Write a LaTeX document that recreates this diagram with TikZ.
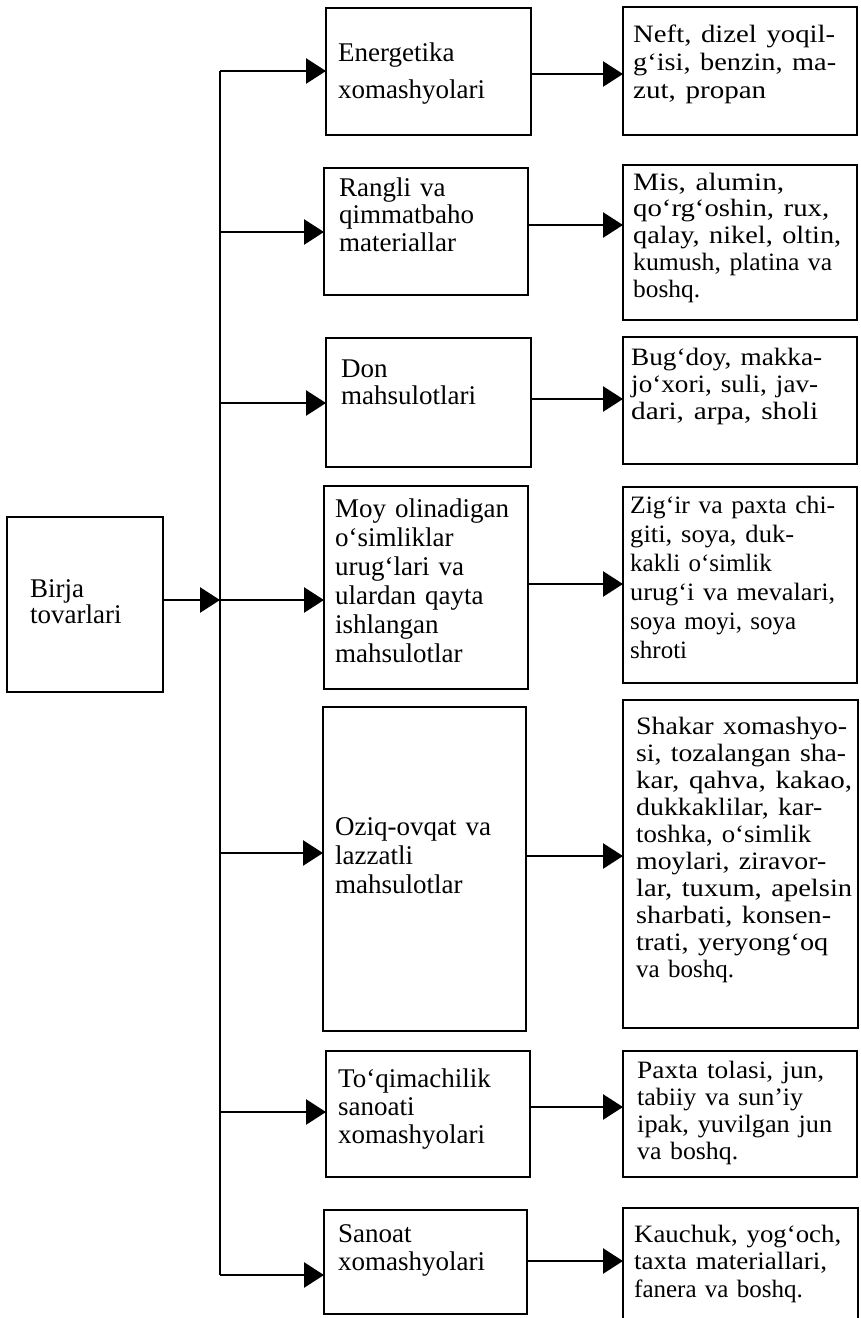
\documentclass[tikz,border=0pt]{standalone}
\usepackage{fontspec}
\usepackage{graphicx}
\setmainfont{Liberation Serif}
\usetikzlibrary{arrows.meta}
\newcommand\jline[2]{\leavevmode\resizebox{#1}{\height}{#2}}
\begin{document}
\begin{tikzpicture}[x=1pt,y=-1pt,
  box/.style={draw, line width=2.8pt, anchor=north west, inner sep=0pt, outer sep=0pt},
  conn/.style={line width=2.7pt},
  arr/.style={line width=2.7pt, -{Triangle[length=20pt,width=25pt]}},
  txtm/.style={anchor=base west, inner sep=0pt, text width=190pt, align=left},
  txtr/.style={anchor=base west, inner sep=0pt, text width=228pt, align=left}]
\useasboundingbox (0,0) rectangle (860,1318);
\clip (0,0) rectangle (860,1318);

% boxes
\node[box, minimum width=156pt, minimum height=175pt] (b) at (7,517) {};
\node[box, minimum width=205pt, minimum height=127pt] (m1) at (326,8) {};
\node[box, minimum width=204pt, minimum height=127pt] (m2) at (324,168) {};
\node[box, minimum width=205pt, minimum height=129pt] (m3) at (326,338) {};
\node[box, minimum width=204pt, minimum height=203pt] (m4) at (324,486) {};
\node[box, minimum width=203pt, minimum height=324pt] (m5) at (323,707) {};
\node[box, minimum width=204pt, minimum height=126pt] (m6) at (326,1051) {};
\node[box, minimum width=203pt, minimum height=104pt] (m7) at (324,1210) {};

\node[box, minimum width=234pt, minimum height=128pt] (r1) at (623,7) {};
\node[box, minimum width=234pt, minimum height=155pt] (r2) at (623,165) {};
\node[box, minimum width=234pt, minimum height=127pt] (r3) at (623,337) {};
\node[box, minimum width=234pt, minimum height=196pt] (r4) at (623,487) {};
\node[box, minimum width=235pt, minimum height=328pt] (r5) at (623,700) {};
\node[box, minimum width=234pt, minimum height=126pt] (r6) at (623,1051) {};
\node[box, minimum width=235pt, minimum height=125pt] (r7) at (623,1208) {};

% texts
\node[txtm, font=\fontsize{27}{26}\selectfont] (t0) at (30,597) {Birja\\tovarlari};
\node[txtm, font=\fontsize{27}{37}\selectfont] (t1) at (338,61) {Energetika\\xomashyolari};
\node[txtm, font=\fontsize{27}{27.5}\selectfont] (t2) at (339,196) {Rangli va\\qimmatbaho\\materiallar};
\node[txtm, font=\fontsize{27}{27}\selectfont] (t3) at (341,377) {Don\\mahsulotlari};
\node[txtm, font=\fontsize{27}{29}\selectfont] (t4) at (335,517) {Moy olinadigan\\o‘simliklar\\urug‘lari va\\ulardan qayta\\ishlangan\\mahsulotlar};
\node[txtm, font=\fontsize{27}{29}\selectfont] (t5) at (335,835) {Oziq-ovqat va\\lazzatli\\mahsulotlar};
\node[txtm, font=\fontsize{27}{28}\selectfont] (t6) at (338,1087) {To‘qimachilik\\sanoati\\xomashyolari};
\node[txtm, font=\fontsize{27}{28}\selectfont] (t7) at (338,1242) {Sanoat\\xomashyolari};

\node[txtr, font=\fontsize{25}{28}\selectfont] (u1) at (633,42) {\jline{202pt}{Neft, dizel yoqil-}\\\jline{203pt}{g‘isi, benzin, ma-}\\\jline{133pt}{zut, propan}};
\node[txtr, font=\fontsize{25}{26.75}\selectfont] (u2) at (633,190) {\jline{151pt}{Mis, alumin,}\\\jline{196pt}{qo‘rg‘oshin, rux,}\\\jline{208pt}{qalay, nikel, oltin,}\\\jline{199pt}{kumush, platina va}\\\jline{67pt}{boshq.}};
\node[txtr, font=\fontsize{25}{27}\selectfont] (u3) at (631,365) {\jline{191pt}{Bug‘doy, makka-}\\\jline{187pt}{jo‘xori, suli, jav-}\\\jline{187pt}{dari, arpa, sholi}};
\node[txtr, font=\fontsize{25}{29}\selectfont] (u4) at (630,513) {\jline{205pt}{Zig‘ir va paxta chi-}\\\jline{164pt}{giti, soya, duk-}\\kakli o‘simlik\\\jline{205pt}{urug‘i va mevalari,}\\soya moyi, soya\\shroti};
\node[txtr, font=\fontsize{25}{27.1}\selectfont] (u5) at (636,734) {\jline{211pt}{Shakar xomashyo-}\\\jline{210pt}{si, tozalangan sha-}\\\jline{216pt}{kar, qahva, kakao,}\\\jline{186pt}{dukkaklilar, kar-}\\\jline{175pt}{toshka, o‘simlik}\\\jline{190pt}{moylari, ziravor-}\\\jline{216pt}{lar, tuxum, apelsin}\\\jline{195pt}{sharbati, konsen-}\\\jline{192pt}{trati, yeryong‘oq}\\va boshq.};
\node[txtr, font=\fontsize{25}{27}\selectfont] (u6) at (637,1078) {\jline{187pt}{Paxta tolasi, jun,}\\\jline{166pt}{tabiiy va sun’iy}\\\jline{195pt}{ipak, yuvilgan jun}\\\jline{101pt}{va boshq.}};
\node[txtr, font=\fontsize{25}{27.5}\selectfont] (u7) at (634,1242) {\jline{207pt}{Kauchuk, yog‘och,}\\\jline{193pt}{taxta materiallari,}\\fanera va boshq.};

% trunk
\coordinate (ttop) at (220,71);
\coordinate (tbot) at (220,1275);
\coordinate (j2) at (220,232);
\coordinate (j3) at (220,403);
\coordinate (j4) at (220,600);
\coordinate (j5) at (220,853);
\coordinate (j6) at (220,1112);
\draw[conn] (ttop) -- (tbot);

% Birja to trunk
\draw[arr] (j4 -| b.east) -- (j4);

% branches
\draw[arr] (ttop) -- (ttop -| m1.west);
\draw[arr] (j2) -- (j2 -| m2.west);
\draw[arr] (j3) -- (j3 -| m3.west);
\draw[arr] (j4) -- (j4 -| m4.west);
\draw[arr] (j5) -- (j5 -| m5.west);
\draw[arr] (j6) -- (j6 -| m6.west);
\draw[arr] (tbot) -- (tbot -| m7.west);

% right arrows
\coordinate (a1) at (531,74);
\coordinate (a2) at (528,225);
\coordinate (a3) at (531,399);
\coordinate (a4) at (528,584);
\coordinate (a5) at (526,856);
\coordinate (a6) at (530,1107);
\coordinate (a7) at (527,1261);
\draw[arr] (a1 -| m1.east) -- (a1 -| r1.west);
\draw[arr] (a2 -| m2.east) -- (a2 -| r2.west);
\draw[arr] (a3 -| m3.east) -- (a3 -| r3.west);
\draw[arr] (a4 -| m4.east) -- (a4 -| r4.west);
\draw[arr] (a5 -| m5.east) -- (a5 -| r5.west);
\draw[arr] (a6 -| m6.east) -- (a6 -| r6.west);
\draw[arr] (a7 -| m7.east) -- (a7 -| r7.west);
\end{tikzpicture}
\end{document}
